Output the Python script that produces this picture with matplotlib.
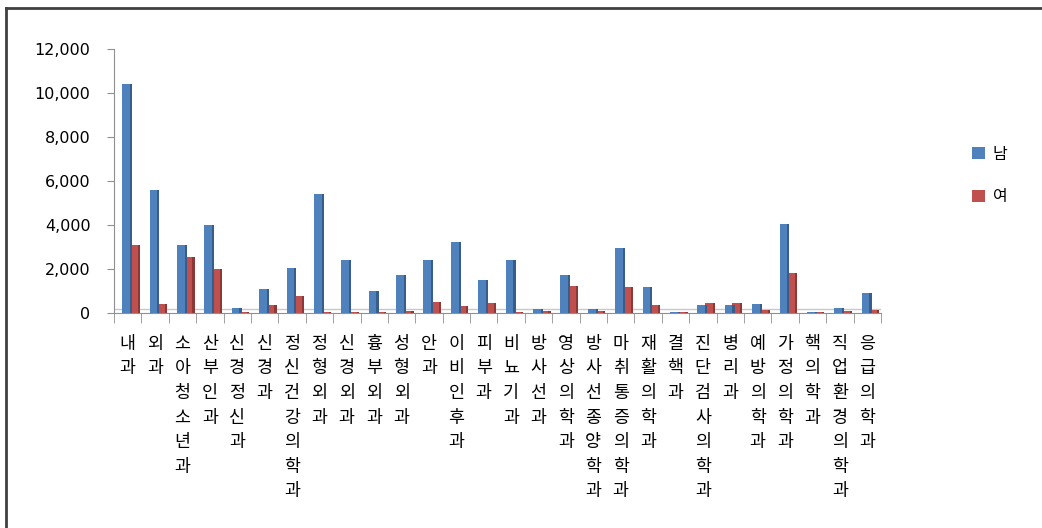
import matplotlib.pyplot as plt
import numpy as np
from matplotlib.lines import Line2D

plt.rcParams['font.family'] = ['Noto Sans CJK KR', 'DejaVu Sans']

# 진료과
departments = ['내과', '외과', '소아청소년과', '산부인과', '신경정신과', '신경과', '정신건강의학과',
               '정형외과', '신경외과', '흉부외과', '성형외과', '안과', '이비인후과', '피부과',
               '비뇨기과', '방사선과', '영상의학과', '방사선종양학과', '마취통증의학과', '재활의학과',
               '결핵과', '진단검사의학과', '병리과', '예방의학과', '가정의학과', '핵의학과',
               '직업환경의학과', '응급의학과']

# 남 / 여
male = [10400, 5600, 3100, 4000, 200, 1100, 2050, 5400, 2400, 1000, 1700, 2400, 3200, 1500,
        2400, 150, 1700, 150, 2950, 1150, 50, 350, 350, 400, 4050, 50, 210, 900]
female = [3100, 400, 2550, 2000, 30, 350, 750, 30, 30, 30, 80, 500, 300, 430,
          30, 60, 1200, 70, 1150, 350, 30, 440, 440, 130, 1800, 30, 60, 130]

blue = '#4F81BD'
blue_side = '#385D8A'
red = '#C0504D'
red_side = '#8C3836'

fig = plt.figure(figsize=(10.42, 5.28), dpi=100)
ax = fig.add_axes([0.1094, 0.4078, 0.736, 0.4995])

x = np.arange(len(departments))
w = 0.28
side = 0.08
# 앞면
ax.bar(x - 0.06, male, w, color=blue, zorder=3, label='남')
ax.bar(x + 0.22, female, w, color=red, zorder=2, label='여')
# 3D 옆면 흉내
ax.bar(x - 0.06 + w / 2 + side / 2, male, side, color=blue_side, zorder=3)
ax.bar(x + 0.22 + w / 2 + side / 2, female, side, color=red_side, zorder=2)

ax.set_xlim(-0.5, len(departments) - 0.5)
ax.set_ylim(0, 12000)
ax.set_yticks(np.arange(0, 12001, 2000))
ax.set_yticklabels([f'{v:,}' for v in range(0, 12001, 2000)],
                   fontsize=11.5, family=['DejaVu Sans'])

ax.set_xticks(x)
ax.set_xticklabels(['\n'.join(d) for d in departments], fontsize=12.5, linespacing=1.47,
                   va='top')
ax.set_xticks(np.arange(-0.5, len(departments)), minor=True)
ax.tick_params(axis='x', which='major', length=0, pad=16)
ax.tick_params(axis='x', which='minor', length=7, color='#909090', direction='out')
ax.tick_params(axis='y', length=5, color='#909090', direction='out', pad=12)

for s in ['top', 'right']:
    ax.spines[s].set_visible(False)
ax.spines['left'].set_color('#909090')
ax.spines['bottom'].set_color('#909090')
ax.axhline(150, color='#c8c8c8', lw=1, zorder=1)

ax.legend(loc='center left', bbox_to_anchor=(1.1, 0.52), frameon=False, fontsize=11.5,
          handlelength=0.8, handleheight=0.8, labelspacing=1.6, handletextpad=0.5)

# 바깥 테두리
fig.add_artist(Line2D([6 / 1042, 6 / 1042], [0, 1 - 8 / 528], color='#404040', lw=2))
fig.add_artist(Line2D([6 / 1042, 1], [1 - 8 / 528, 1 - 8 / 528], color='#404040', lw=2))

plt.savefig('out.png', dpi=100)
